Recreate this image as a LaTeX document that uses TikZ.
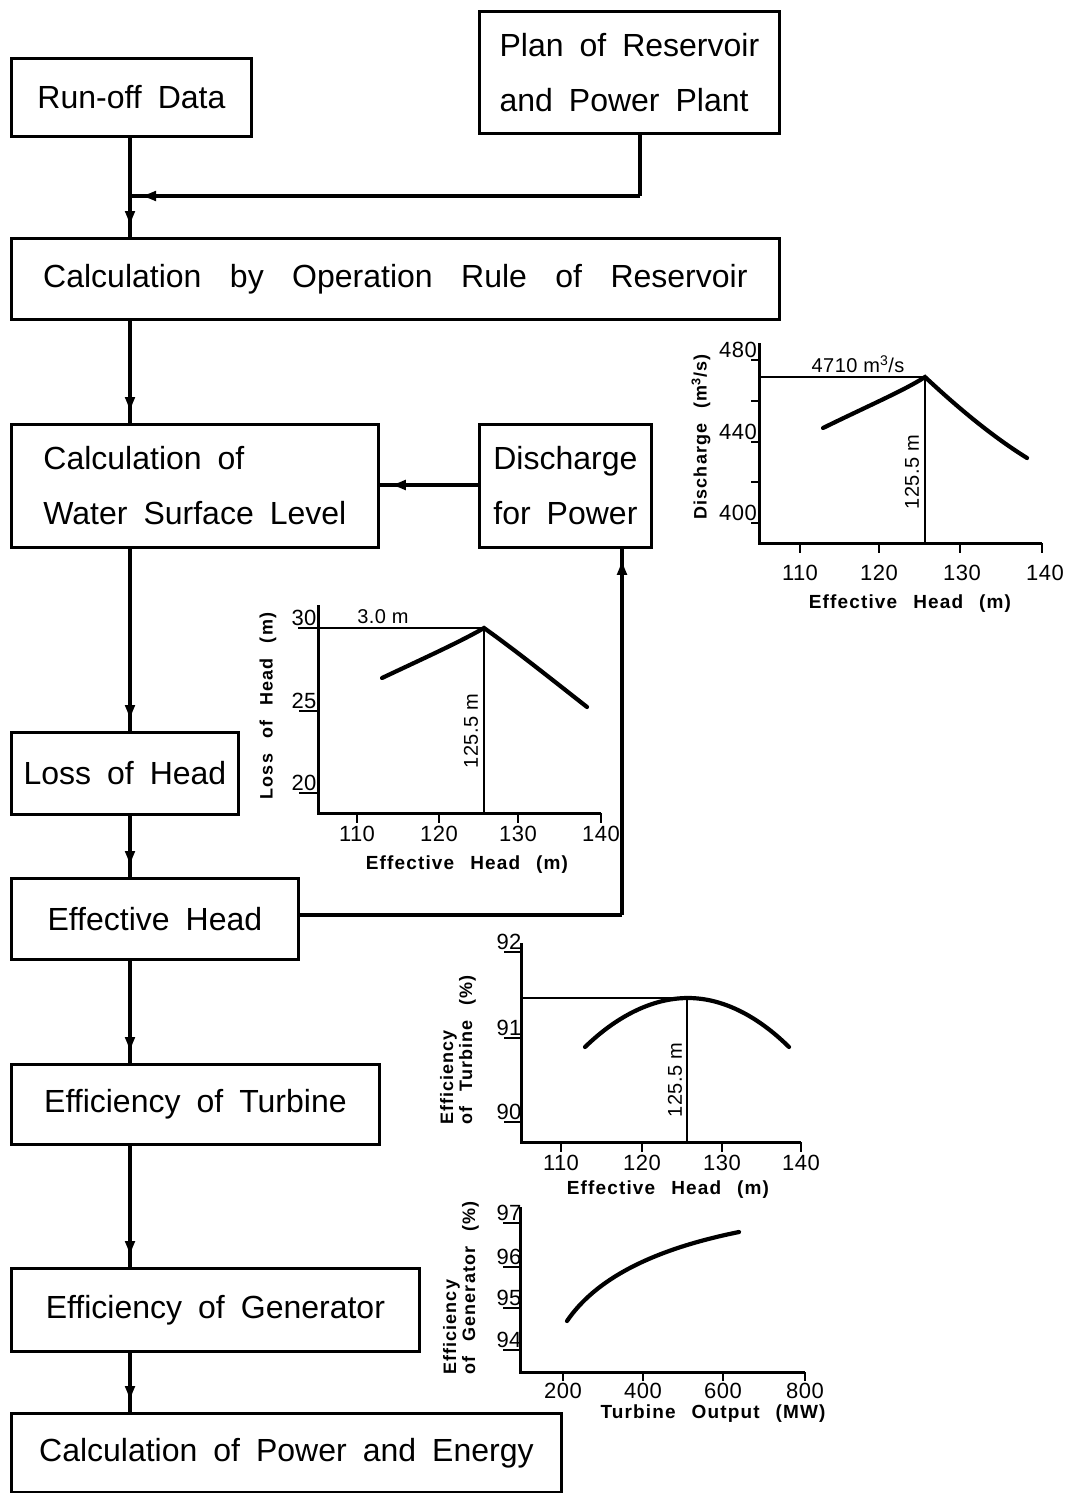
\documentclass[tikz,border=0pt]{standalone}
\usepackage{fontspec}
\setmainfont[WordSpace=1.8]{Liberation Sans}
\newfontfamily\widefont[WordSpace=3.2]{Liberation Sans}
\newfontfamily\chartfont[LetterSpace=6,WordSpace=2.5]{Liberation Sans}
\newfontfamily\numfont[LetterSpace=2]{Liberation Sans}
\usetikzlibrary{arrows.meta,decorations.markings}
\begin{document}
\begin{tikzpicture}[x=1pt,y=-1pt,
  box/.style={draw, line width=2.8pt, anchor=north west, inner sep=0pt,
    font=\fontsize{32}{55}\selectfont},
  flow/.style={line width=3.4pt, postaction={decorate},
    decoration={markings, mark=at position -9pt with {\arrow{Latex[length=17pt,width=11pt]}}}},
  plain/.style={line width=3.4pt},
  axis/.style={line width=3pt},
  thin/.style={line width=2.2pt},
  curve/.style={line width=4.2pt, line cap=round},
  tick/.style={font=\numfont\fontsize{22}{22}\selectfont, inner sep=1pt},
  atitle/.style={font=\chartfont\bfseries\fontsize{19}{19}\selectfont, inner sep=0pt},
  vlab/.style={font=\numfont\fontsize{20}{20}\selectfont, inner sep=0pt, rotate=90},
  ylab/.style={font=\chartfont\bfseries\fontsize{18}{19}\selectfont, inner sep=0pt, rotate=90, align=left},
]
\useasboundingbox (0,0) rectangle (1068,1493);

% ---------- boxes ----------
\node[box, minimum width=240pt, minimum height=78pt] (run) at (10,57) {Run-off Data};
\node[box, minimum width=300pt, minimum height=122pt, align=left] (plan) at (478,10) {Plan of Reservoir\\and Power Plant};
\node[box, minimum width=768pt, minimum height=81pt, font=\widefont\fontsize{32}{55}\selectfont] (oper) at (10,237) {Calculation by Operation Rule of Reservoir};
\node[box, minimum width=367pt, minimum height=123pt, align=left] (water) at (10,423) {Calculation of\\Water Surface Level};
\node[box, minimum width=172pt, minimum height=123pt, align=left] (disch) at (478,423) {Discharge\\for Power};
\node[box, minimum width=227pt, minimum height=82pt] (loss) at (10,731) {Loss of Head};
\node[box, minimum width=287pt, minimum height=81pt] (eff) at (10,877) {Effective Head};
\node[box, minimum width=368pt, minimum height=80pt] (turb) at (10,1063) {Efficiency of Turbine};
\node[box, minimum width=408pt, minimum height=83pt] (gen) at (10,1267) {Efficiency of Generator};
\node[box, minimum width=550pt, minimum height=79pt] (power) at (10,1412) {Calculation of Power and Energy};

% ---------- connectors ----------
\coordinate (j) at (130,196);
\draw[flow] (run.south -| j) -- (oper.north -| j);
\draw[plain] (plan.south -| 640,0) -- (640,196) coordinate (pc);
\draw[flow] (pc) -- (j);
\draw[flow] (oper.south -| j) -- (water.north -| j);
\draw[flow] (water.south -| j) -- (loss.north -| j);
\draw[flow] (loss.south -| j) -- (eff.north -| j);
\draw[flow] (eff.south -| j) -- (turb.north -| j);
\draw[flow] (turb.south -| j) -- (gen.north -| j);
\draw[flow] (gen.south -| j) -- (power.north -| j);
\draw[flow] (disch.west |- 0,485) -- (water.east |- 0,485);
\coordinate (ec) at (622,915);
\draw[plain] (eff.east |- ec) -- (ec);
\draw[flow] (ec) -- (disch.south -| ec);

% ---------- chart 1: Discharge ----------
\draw[axis] (759,343) -- (759,543) -- (1042,543);
\foreach \x in {800,879,960,1042} \draw[thin] (\x,543) -- (\x,553);
\foreach \y in {360,401,442,482,523} \draw[thin] (751,\y) -- (759,\y);
\node[tick, anchor=south east] (d480) at (758,359) {480};
\node[tick, anchor=south east] (d440) at (758,441) {440};
\node[tick, anchor=south east] (d400) at (758,522) {400};
\node[tick, anchor=north] (d110) at (800,564) {110};
\node[tick, anchor=north] (d120) at (879,564) {120};
\node[tick, anchor=north] (d130) at (962,564) {130};
\node[tick, anchor=north] (d140) at (1045,564) {140};
\node[atitle] (dxt) at (910,604) {Effective Head (m)};
\node[ylab] (dyt) at (701,437) {Discharge (m\textsuperscript{3}/s)};
\draw[thin] (759,377) -- (925,377) -- (925,543);
\node[vlab, rotate=-90, anchor=south] (dq) at (858,373) {4710 m\textsuperscript{3}/s};
\node[vlab] (dh) at (912,472) {125.5 m};
\draw[curve] (823,428) .. controls (870,405) and (905,390) .. (925,377)
  .. controls (955,405) and (990,435) .. (1027,458);

% ---------- chart 2: Loss of Head ----------
\draw[axis] (318,605) -- (318,813) -- (601,813);
\foreach \x in {357,439,518,601} \draw[thin] (\x,813) -- (\x,823);
\foreach \y in {711,793} \draw[thin] (299,\y) -- (318,\y);
\node[tick, anchor=south] (l30) at (304,627) {30};
\node[tick, anchor=south] (l25) at (304,710) {25};
\node[tick, anchor=south] (l20) at (304,792) {20};
\node[tick, anchor=north] (l110) at (357,825) {110};
\node[tick, anchor=north] (l120) at (439,825) {120};
\node[tick, anchor=north] (l130) at (518,825) {130};
\node[tick, anchor=north] (l140) at (601,825) {140};
\node[atitle] (lxt) at (467,865) {Effective Head (m)};
\node[ylab] (lyt) at (268,706) {Loss of Head (m)};
\draw[thin] (298,628) -- (484,628) -- (484,813);
\node[vlab, rotate=-90, anchor=south] (lq) at (383,624) {3.0 m};
\node[vlab] (lh) at (471,731) {125.5 m};
\draw[curve] (382,678) .. controls (420,660) and (460,642) .. (484,628)
  .. controls (515,650) and (550,678) .. (587,707);

% ---------- chart 3: Efficiency of Turbine ----------
\draw[axis] (521,943) -- (521,1142) -- (801,1142);
\foreach \x in {561,642,722,801} \draw[thin] (\x,1142) -- (\x,1152);
\foreach \y in {952,1038,1122} \draw[thin] (504,\y) -- (521,\y);
\node[tick, anchor=south] (t92) at (509,951) {92};
\node[tick, anchor=south] (t91) at (509,1037) {91};
\node[tick, anchor=south] (t90) at (509,1121) {90};
\node[tick, anchor=north] (t110) at (561,1154) {110};
\node[tick, anchor=north] (t120) at (642,1154) {120};
\node[tick, anchor=north] (t130) at (722,1154) {130};
\node[tick, anchor=north] (t140) at (801,1154) {140};
\node[atitle] (txt) at (668,1190) {Effective Head (m)};
\node[ylab] (tyt) at (458,1050) {Efficiency\\of Turbine (\%)};
\draw[thin] (521,998) -- (688,998);
\draw[thin] (687,998) -- (687,1142);
\node[vlab] (th) at (675,1080) {125.5 m};
\draw[curve] (585,1047) parabola bend (688,998) (789,1047);

% ---------- chart 4: Efficiency of Generator ----------
\draw[axis] (520,1207) -- (520,1372) -- (805,1372);
\foreach \x in {563,643,723,805} \draw[thin] (\x,1372) -- (\x,1381);
\foreach \y in {1223,1267,1308,1350} \draw[thin] (503,\y) -- (520,\y);
\node[tick, anchor=south] (g97) at (509,1222) {97};
\node[tick, anchor=south] (g96) at (509,1266) {96};
\node[tick, anchor=south] (g95) at (509,1307) {95};
\node[tick, anchor=south] (g94) at (509,1349) {94};
\node[tick, anchor=north] (g200) at (563,1382) {200};
\node[tick, anchor=north] (g400) at (643,1382) {400};
\node[tick, anchor=north] (g600) at (723,1382) {600};
\node[tick, anchor=north] (g800) at (805,1382) {800};
\node[atitle] (gxt) at (713,1414) {Turbine Output (MW)};
\node[ylab] (gyt) at (461,1288) {Efficiency\\of Generator (\%)};
\draw[curve] (567,1321) .. controls (595,1280) and (650,1250) .. (739,1232);
\end{tikzpicture}
\end{document}
